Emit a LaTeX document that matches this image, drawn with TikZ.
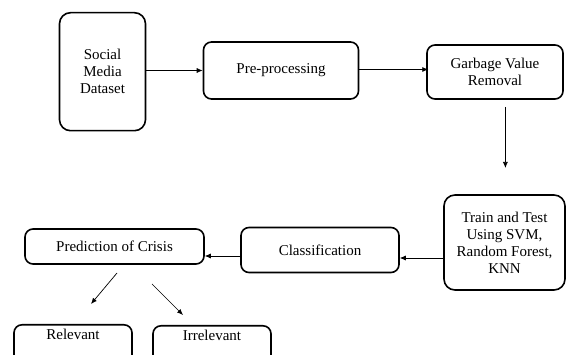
\documentclass[tikz,border=0pt]{standalone}
\usepackage{fontspec}
\setmainfont{Liberation Serif}
\usetikzlibrary{arrows.meta}

\begin{document}
\begin{tikzpicture}[
  x=1pt, y=-1pt,
  blk/.style={draw, rounded corners=8pt, line width=1.6pt, align=center,
    font=\fontsize{15}{17}\selectfont, inner sep=0pt},
  arr/.style={-{Latex[length=6pt,width=5pt]}, line width=0.7pt}
]
\clip (0,0) rectangle (566,355);

% --- top row ---
\node[blk, minimum width=86pt, minimum height=118pt, rounded corners=11pt] (data) at (102.5,71.7) {Social\\Media\\Dataset};
\node[blk, minimum width=155pt, minimum height=57pt] (pre) at (281,70.5) {Pre-processing};
\node[blk, minimum width=136pt, minimum height=54pt] (garb) at (495,72) {Garbage Value\\Removal};

% --- middle row ---
\node[blk, minimum width=121pt, minimum height=95pt, rounded corners=11pt] (train) at (504.5,242.5) {Train and Test\\Using SVM,\\Random Forest,\\KNN};
\node[blk, minimum width=158pt, minimum height=45pt] (cls) at (320,250) {Classification};
\node[blk, minimum width=179pt, minimum height=35pt] (pred) at (114.5,246.5) {Prediction of Crisis};

% --- outputs (cut at the bottom edge) ---
\node[blk, anchor=north, minimum width=118pt, text height=11pt, text depth=26pt, inner ysep=4pt] (rel) at (73,324) {Relevant};
\node[blk, anchor=north, minimum width=118pt, text height=11pt, text depth=26pt, inner ysep=4pt] (irr) at (212,325) {Irrelevant};

\coordinate (d0) at (505.4,107);
\coordinate (d1) at (505.4,168);
\coordinate (r0) at (117,273);
\coordinate (r1) at (91,304);
\coordinate (i0) at (152,284);
\coordinate (i1) at (183,315);

% --- arrows ---
\draw[arr] (data.east |- pre.west) -- (pre.west);
\draw[arr] (pre.east) ++(0,-1) -- ++(69,0);
\draw[arr] (d0) -- (d1);
\draw[arr] (train.west |- 0,258) -- (cls.east |- 0,258);
\draw[arr] (cls.west |- 0,256) -- (pred.east |- 0,256);
\draw[arr] (r0) -- (r1);
\draw[arr] (i0) -- (i1);

\end{tikzpicture}
\end{document}
